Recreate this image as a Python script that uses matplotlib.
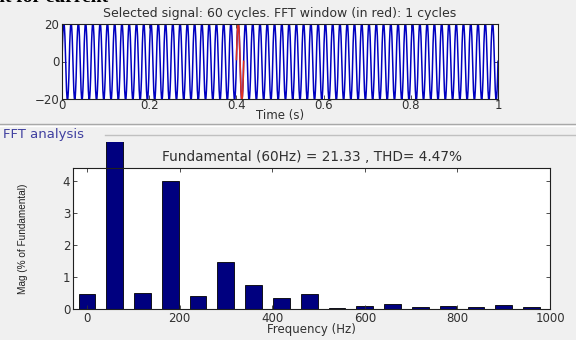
import numpy as np
import matplotlib.pyplot as plt
from matplotlib.transforms import Bbox, TransformedBbox

# FFT result (% of fundamental), harmonics of 60 Hz
freqs = [0, 60, 120, 180, 240, 300, 360, 420, 480, 540, 600, 660, 720, 780, 840, 900, 960]
mags = [0.48, 100, 0.5, 4.0, 0.42, 1.47, 0.75, 0.35, 0.46, 0.04, 0.09, 0.17, 0.06, 0.09, 0.07, 0.13, 0.07]
fund_amp = 21.33
thd = 4.47
n_cycles = 60
win_start, win_cycles = 0.4, 1

xticks_top = [0, 0.2, 0.4, 0.6, 0.8, 1]
yticks_top = [-20, 0, 20]
xticks_bot = [0, 200, 400, 600, 800, 1000]
yticks_bot = [0, 1, 2, 3, 4]

plt.rcParams['font.family'] = ['DejaVu Sans']
W, H = 576, 340
fig = plt.figure(figsize=(W / 100, H / 100), dpi=100, facecolor='#f0f0f0')

def px(l, t, r, b):
    return [l / W, 1 - b / H, (r - l) / W, (b - t) / H]

# time signal rebuilt from the measured harmonics
t = np.linspace(0, 1, 12001)
sig = np.zeros_like(t)
for f, m in zip(freqs, mags):
    if f == 0:
        sig += fund_amp * m / 100
    else:
        sig += fund_amp * m / 100 * np.sin(2 * np.pi * f * t)

ax1 = fig.add_axes(px(62, 24, 498, 99))
ax1.plot(t, sig, color='#0000c0', lw=1.1)
w_end = win_start + win_cycles / n_cycles
sel = (t >= win_start) & (t <= w_end)
ax1.plot(t[sel], sig[sel], color='#e03020', lw=1.1)
ax1.set_xlim(0, 1)
ax1.set_ylim(-20, 20)
ax1.set_xticks(xticks_top)
ax1.set_xticklabels(['0', '0.2', '0.4', '0.6', '0.8', '1'])
ax1.set_yticks(yticks_top)
ax1.set_title('Selected signal: %d cycles. FFT window (in red): %d cycles' % (n_cycles, win_cycles),
              fontsize=9, pad=5, color='#303030')
ax1.set_xlabel('Time (s)', fontsize=8.5, labelpad=-2, color='#303030')

ax2 = fig.add_axes(px(73, 168, 550, 309))
bars = ax2.bar(freqs, mags, width=36, color='#00007f', edgecolor='black', lw=0.6)
clip = TransformedBbox(Bbox([[0, 0], [1, 1 - 142 / H]]), fig.transFigure)
for b in bars:
    b.set_clip_box(clip)
ax2.set_xlim(-30, 1000)
ax2.set_ylim(0, 4.4)
ax2.set_xticks(xticks_bot)
ax2.set_yticks(yticks_bot)
ax2.set_title('Fundamental (60Hz) = %.2f , THD= %.2f%%' % (fund_amp, thd),
              fontsize=9.8, pad=5, color='#303030')
ax2.set_xlabel('Frequency (Hz)', fontsize=8.5, labelpad=-1, color='#303030')
ax2.set_ylabel('Mag (% of Fundamental)', fontsize=7.2, color='#202020',
               family='Liberation Sans')
ax2.yaxis.set_label_coords(-0.094, 0.5)

for ax in (ax1, ax2):
    ax.set_facecolor('white')
    ax.tick_params(direction='in', top=True, right=True, labelsize=8.5, length=3,
                   width=0.6, colors='#303030', pad=2)
    for s in ax.spines.values():
        s.set_linewidth(0.8)
        s.set_color('#202020')
ax1.tick_params(axis='x', pad=0)

# panel decorations
fig.add_artist(plt.Line2D([0, 1], [1 - 124 / H] * 2, color='#a8a8a8', lw=1))
fig.add_artist(plt.Line2D([0, 1], [1 - 126 / H] * 2, color='white', lw=1))
fig.add_artist(plt.Line2D([105 / W, 1], [1 - 135 / H] * 2, color='#c0c0c0', lw=1))
fig.text(3 / W, 1 - 135 / H, 'FFT analysis', fontsize=9.5, color='#4040a0', va='center')
fig.text(-0.01, 1 - 2 / H, 'nt for current', fontsize=14, fontweight='bold',
         family='Liberation Serif', va='baseline', color='black')

fig.savefig('out.png', dpi=100, facecolor=fig.get_facecolor())
